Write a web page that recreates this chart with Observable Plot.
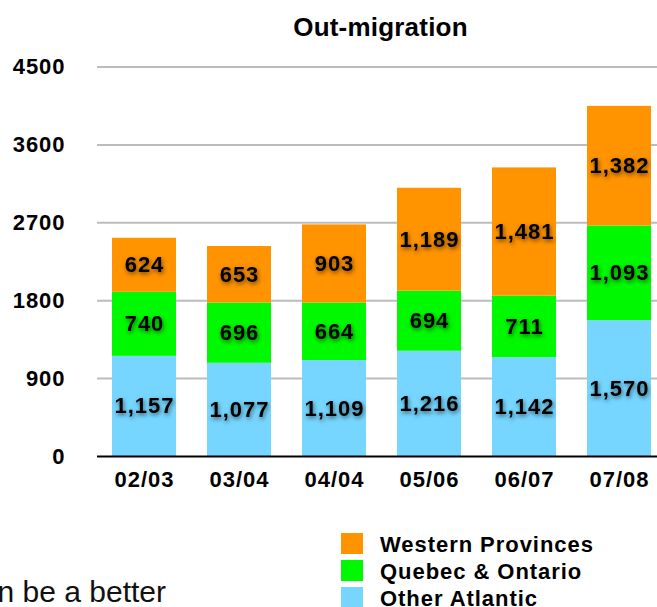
<!DOCTYPE html>
<html>
<head>
<meta charset="utf-8">
<script src="https://cdn.jsdelivr.net/npm/d3@7"></script>
<script src="https://cdn.jsdelivr.net/npm/@observablehq/plot@0.6"></script>
<style>
  body { margin: 0; background: #fff; }
  #wrap { position: relative; width: 657px; height: 607px; overflow: hidden; background: #fff;
          font-family: "Liberation Sans", Arial, Helvetica, sans-serif; color: #000; }
  #title { position: absolute; left: 380.5px; top: 14px; transform: translateX(-50%);
           font-size: 26px; line-height: 26px; font-weight: bold; white-space: nowrap; letter-spacing: 0.2px; }
  #chart { position: absolute; left: 0; top: 0; }
  #legend { position: absolute; left: 341px; top: 530.5px; }
  .row { display: flex; align-items: center; height: 26.7px; }
  .sw { width: 22px; height: 21px; flex: none; }
  .lab { margin-left: 17px; font-size: 22px; font-weight: bold; letter-spacing: 0.95px;
         line-height: 21px; white-space: nowrap; position: relative; top: 1px; }
  #note { position: absolute; left: -300px; width: 466px; text-align: right; top: 577px;
          font-size: 30px; line-height: 30px; white-space: nowrap; color: #111; }
</style>
</head>
<body>
<div id="wrap">
  <div id="chart"></div>
  <div id="title">Out-migration</div>
  <div id="legend"></div>
  <div id="note">n be a better</div>
</div>
<script>
const years = ["02/03", "03/04", "04/04", "05/06", "06/07", "07/08"];
const otherAtlantic = [1157, 1077, 1109, 1216, 1142, 1570];
const quebecOntario = [740, 696, 664, 694, 711, 1093];
const westernProvinces = [624, 653, 903, 1189, 1481, 1382];
const seriesNames = ["Other Atlantic", "Quebec & Ontario", "Western Provinces"];
const seriesColors = ["#76d6ff", "#00f900", "#ff9300"];
const yTicks = [0, 900, 1800, 2700, 3600, 4500];

const seriesValues = [otherAtlantic, quebecOntario, westernProvinces];
const rows = seriesNames.flatMap((s, i) =>
  years.map((y, j) => ({ year: y, series: s, value: seriesValues[i][j] }))
);
const fmt = d3.format(",");
const font = '"Liberation Sans", Arial, Helvetica, sans-serif';

const plot = Plot.plot({
  width: 657,
  height: 500,
  marginLeft: 97,
  marginRight: 0,
  marginTop: 66,
  marginBottom: 44,
  style: { fontFamily: font, fontSize: "22px", fontWeight: "bold", color: "#000",
           background: "transparent", letterSpacing: "0.95px" },
  x: { domain: years, range: [111, 652], paddingInner: 0.33, paddingOuter: 0, label: null },
  y: { domain: [0, 4500], range: [456, 66.5], label: null },
  color: { domain: seriesNames, range: seriesColors },
  marks: [
    Plot.ruleY(yTicks.filter(d => d > 0), { stroke: "#bcbcbc", strokeWidth: 2 }),
    Plot.barY(rows, { x: "year", y: "value", z: "series", fill: "series" }),
    Plot.ruleY([0], { stroke: "#000", strokeWidth: 2 }),
    Plot.text(rows, Plot.stackY({
      x: "year", y: "value", z: "series",
      text: d => fmt(d.value), fill: "#000", fontSize: 22, fontWeight: "bold"
    })),
    Plot.axisY({ ticks: yTicks, tickSize: 0, tickPadding: 32, tickFormat: d => String(d),
                 label: null, fontSize: 22, fontWeight: "bold" }),
    Plot.axisX({ tickSize: 0, tickPadding: 15, label: null, fontSize: 22, fontWeight: "bold" })
  ]
});

plot.querySelectorAll('g[aria-label="text"]').forEach(g => {
  g.style.filter = "drop-shadow(1px 2px 2px rgba(0,0,0,0.55))";
});
document.getElementById("chart").appendChild(plot);

const legend = document.getElementById("legend");
[2, 1, 0].forEach(i => {
  const row = document.createElement("div");
  row.className = "row";
  const sw = document.createElement("div");
  sw.className = "sw";
  sw.style.background = seriesColors[i];
  const lab = document.createElement("div");
  lab.className = "lab";
  lab.textContent = seriesNames[i];
  row.appendChild(sw);
  row.appendChild(lab);
  legend.appendChild(row);
});
</script>
</body>
</html>
